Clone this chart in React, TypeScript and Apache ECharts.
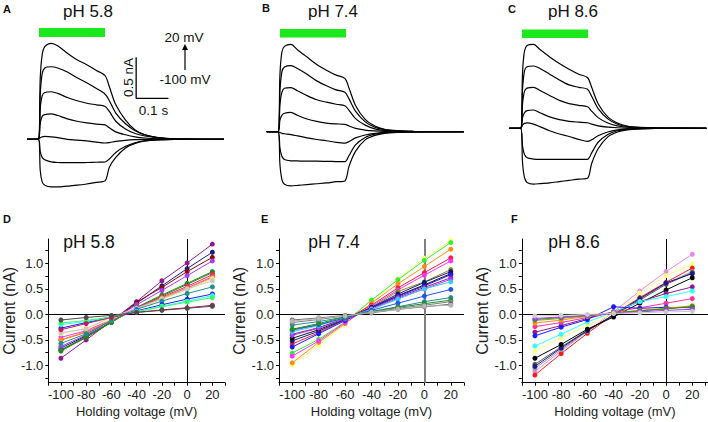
import React, { useEffect, useRef } from "react";
import * as echarts from "echarts";

const FONT = "'Liberation Sans', Arial, Helvetica, sans-serif";

// ---------- Top row: current traces (time in s, current in nA) ----------
const traceTimes = [-0.035, 0, 0.006, 0.012, 0.02, 0.04, 0.06, 0.09, 0.12, 0.15, 0.18, 0.207, 0.22, 0.24, 0.27, 0.3, 0.33, 0.37, 0.42, 0.575];

const tracesA = [
  [0, 0, 0.75, 1.03, 1.13, 1.17, 1.14, 1.05, 0.97, 0.91, 0.84, 0.775, 0.64, 0.42, 0.235, 0.115, 0.055, 0.02, 0.007, 0],
  [0, 0, 0.55, 0.8, 0.87, 0.885, 0.87, 0.82, 0.75, 0.69, 0.62, 0.55, 0.47, 0.32, 0.19, 0.105, 0.055, 0.022, 0.006, 0],
  [0, 0, 0.38, 0.53, 0.57, 0.58, 0.56, 0.51, 0.47, 0.44, 0.42, 0.4, 0.34, 0.22, 0.125, 0.07, 0.04, 0.017, 0.005, 0],
  [0, 0, 0.2, 0.28, 0.3, 0.31, 0.29, 0.25, 0.22, 0.2, 0.185, 0.175, 0.14, 0.09, 0.055, 0.03, 0.016, 0.007, 0.002, 0],
  [0, 0, 0.02, 0.03, 0.035, 0.03, 0.02, 0, -0.01, -0.02, -0.035, -0.045, -0.04, -0.025, -0.012, -0.005, -0.002, 0, 0, 0],
  [0, 0, -0.15, -0.22, -0.25, -0.275, -0.283, -0.285, -0.285, -0.283, -0.28, -0.277, -0.24, -0.16, -0.085, -0.042, -0.02, -0.008, -0.002, 0],
  [0, 0, -0.38, -0.52, -0.56, -0.58, -0.58, -0.57, -0.56, -0.545, -0.525, -0.505, -0.34, -0.22, -0.105, -0.05, -0.02, -0.008, -0.002, 0],
];

const tracesB = [
  [0, 0, 0.7, 0.97, 1.04, 1.065, 1.0, 0.91, 0.82, 0.75, 0.69, 0.65, 0.53, 0.32, 0.15, 0.07, 0.03, 0.012, 0.004, 0],
  [0, 0, 0.5, 0.73, 0.79, 0.805, 0.77, 0.7, 0.62, 0.56, 0.51, 0.48, 0.4, 0.25, 0.12, 0.055, 0.025, 0.01, 0.003, 0],
  [0, 0, 0.33, 0.48, 0.53, 0.537, 0.5, 0.44, 0.39, 0.36, 0.335, 0.317, 0.26, 0.16, 0.08, 0.035, 0.015, 0.006, 0.002, 0],
  [0, 0, 0.14, 0.2, 0.225, 0.235, 0.2, 0.155, 0.125, 0.105, 0.095, 0.09, 0.07, 0.04, 0.02, 0.01, 0.004, 0.002, 0, 0],
  [0, 0, -0.01, -0.02, -0.025, -0.035, -0.05, -0.075, -0.095, -0.11, -0.13, -0.14, -0.12, -0.075, -0.04, -0.02, -0.008, -0.003, -0.001, 0],
  [0, 0, -0.2, -0.3, -0.34, -0.355, -0.357, -0.36, -0.36, -0.362, -0.364, -0.366, -0.29, -0.16, -0.07, -0.03, -0.012, -0.005, -0.001, 0],
  [0, 0, -0.4, -0.58, -0.64, -0.66, -0.655, -0.645, -0.635, -0.625, -0.61, -0.6, -0.42, -0.24, -0.1, -0.045, -0.02, -0.008, -0.002, 0],
];

const tracesC = [
  [0, 0, 0.68, 0.94, 1.01, 1.024, 0.96, 0.87, 0.79, 0.72, 0.66, 0.62, 0.5, 0.3, 0.14, 0.065, 0.028, 0.011, 0.004, 0],
  [0, 0, 0.48, 0.7, 0.75, 0.76, 0.73, 0.66, 0.59, 0.53, 0.5, 0.476, 0.39, 0.24, 0.115, 0.05, 0.022, 0.009, 0.003, 0],
  [0, 0, 0.3, 0.45, 0.49, 0.5, 0.46, 0.4, 0.34, 0.3, 0.28, 0.263, 0.21, 0.13, 0.065, 0.03, 0.013, 0.005, 0.001, 0],
  [0, 0, 0.13, 0.19, 0.215, 0.223, 0.19, 0.14, 0.105, 0.085, 0.075, 0.068, 0.05, 0.03, 0.015, 0.007, 0.003, 0.001, 0, 0],
  [0, 0, 0.04, 0.06, 0.065, 0.05, 0.02, -0.03, -0.07, -0.1, -0.135, -0.16, -0.14, -0.09, -0.045, -0.02, -0.008, -0.003, -0.001, 0],
  [0, 0, -0.22, -0.32, -0.36, -0.375, -0.378, -0.378, -0.378, -0.378, -0.378, -0.378, -0.3, -0.17, -0.075, -0.03, -0.012, -0.005, -0.001, 0],
  [0, 0, -0.42, -0.6, -0.66, -0.68, -0.675, -0.665, -0.65, -0.635, -0.62, -0.61, -0.43, -0.25, -0.105, -0.045, -0.02, -0.008, -0.002, 0],
];

// scale bar (panel A): 0.5 nA / 0.1 s
const scaleBarT = 0.303;
const scaleBarI = 0.5;
const scaleBarDI = 0.5;
const scaleBarDT = 0.1;

// ---------- Bottom row: I-V curves ----------
const voltages = [-100, -80, -60, -40, -20, 0, 20];
const xTickValues = [-110, -100, -90, -80, -70, -60, -50, -40, -30, -20, -10, 0, 10, 20, 30];
const xLabelValues = [-100, -80, -60, -40, -20, 0, 20];
const yTickValues = [-1.25, -1, -0.75, -0.5, -0.25, 0, 0.25, 0.5, 0.75, 1, 1.25];
const yLabelValues = [-1, -0.5, 0, 0.5, 1];

const ivValuesD = [
  [-0.86, -0.5, -0.13, 0.25, 0.66, 1.01, 1.38],
  [-0.66, -0.42, -0.15, 0.22, 0.56, 0.9, 1.22],
  [-0.7, -0.45, -0.15, 0.24, 0.53, 0.84, 1.12],
  [-0.63, -0.4, -0.12, 0.19, 0.47, 0.76, 1.05],
  [-0.72, -0.45, -0.16, 0.14, 0.38, 0.61, 0.84],
  [-0.7, -0.43, -0.15, 0.13, 0.36, 0.59, 0.82],
  [-0.5, -0.35, -0.12, 0.12, 0.34, 0.55, 0.78],
  [-0.45, -0.32, -0.1, 0.13, 0.32, 0.52, 0.74],
  [-0.5, -0.34, -0.12, 0.11, 0.32, 0.51, 0.72],
  [-0.38, -0.27, -0.1, 0.1, 0.3, 0.49, 0.7],
  [-0.36, -0.28, -0.05, 0.12, 0.3, 0.5, 0.66],
  [-0.57, -0.38, -0.12, 0.1, 0.26, 0.41, 0.54],
  [-0.27, -0.16, -0.05, 0.07, 0.19, 0.3, 0.4],
  [-0.2, -0.14, -0.05, 0.06, 0.16, 0.26, 0.37],
  [-0.17, -0.12, -0.05, 0.05, 0.15, 0.24, 0.33],
  [-0.3, -0.18, -0.06, 0.04, 0.09, 0.13, 0.18],
  [-0.11, -0.06, -0.02, 0.04, 0.08, 0.12, 0.16],
];
const ivColorsD = ["#8e1b8e", "#1b1b8e", "#8b0a0a", "#a93bf2", "#1f8f1f", "#2e7d32", "#ff2a2a", "#ff33ff", "#ff9020", "#f2f26a", "#c8c8c8", "#1f9090", "#1f1fff", "#33ffff", "#33ff66", "#c2185b", "#4d4d4d"];

const ivValuesE = [
  [-0.99, -0.6, -0.2, 0.23, 0.7, 1.1, 1.45],
  [-0.76, -0.49, -0.15, 0.28, 0.68, 1.06, 1.41],
  [-0.95, -0.55, -0.18, 0.22, 0.6, 0.94, 1.28],
  [-0.58, -0.36, -0.1, 0.18, 0.52, 0.82, 1.11],
  [-0.82, -0.52, -0.16, 0.16, 0.48, 0.77, 1.05],
  [-0.31, -0.21, -0.08, 0.14, 0.45, 0.64, 0.88],
  [-0.52, -0.33, -0.1, 0.14, 0.4, 0.63, 0.84],
  [-0.47, -0.3, -0.09, 0.13, 0.37, 0.58, 0.8],
  [-0.64, -0.38, -0.12, 0.13, 0.36, 0.56, 0.78],
  [-0.39, -0.26, -0.08, 0.12, 0.34, 0.53, 0.72],
  [-0.41, -0.27, -0.09, 0.1, 0.32, 0.5, 0.69],
  [-0.34, -0.22, -0.07, 0.1, 0.3, 0.5, 0.64],
  [-0.3, -0.2, -0.07, 0.08, 0.22, 0.36, 0.49],
  [-0.21, -0.14, -0.05, 0.06, 0.15, 0.25, 0.33],
  [-0.29, -0.18, -0.05, 0.05, 0.14, 0.21, 0.28],
  [-0.16, -0.1, -0.03, 0.04, 0.12, 0.18, 0.25],
  [-0.11, -0.07, -0.02, 0.03, 0.1, 0.15, 0.2],
  [-0.13, -0.08, -0.03, 0.04, 0.1, 0.16, 0.18],
];
const ivColorsE = ["#ffff70", "#33ee33", "#ff8c1a", "#ff1a3a", "#ff33ff", "#8b8b1a", "#1a1a8b", "#111111", "#1a1aff", "#8e1b8e", "#a93bf2", "#33ccff", "#2255ee", "#1f9090", "#1f8f1f", "#808080", "#666666", "#b5b5b5"];

const ivValuesF = [
  [-1.12, -0.72, -0.33, 0.05, 0.46, 0.84, 1.18],
  [-0.72, -0.46, -0.22, 0.02, 0.42, 0.76, 0.99],
  [-1.19, -0.77, -0.37, 0.0, 0.33, 0.63, 0.91],
  [-1.06, -0.69, -0.33, 0.0, 0.3, 0.61, 0.84],
  [-0.98, -0.64, -0.31, -0.02, 0.28, 0.59, 0.82],
  [-1.02, -0.66, -0.32, -0.01, 0.31, 0.62, 0.8],
  [-0.86, -0.59, -0.29, -0.05, 0.22, 0.48, 0.72],
  [-0.35, -0.22, -0.08, 0.05, 0.25, 0.41, 0.54],
  [-0.62, -0.39, -0.15, 0.05, 0.25, 0.35, 0.46],
  [-0.24, -0.16, -0.06, 0.05, 0.13, 0.22, 0.31],
  [-0.42, -0.25, -0.1, 0.15, 0.12, 0.14, 0.13],
  [-0.17, -0.11, -0.04, 0.03, 0.08, 0.12, 0.17],
  [-0.12, -0.08, -0.03, 0.03, 0.07, 0.11, 0.16],
  [-0.1, -0.06, -0.02, 0.03, 0.07, 0.11, 0.15],
  [-0.08, -0.05, -0.02, 0.02, 0.05, 0.08, 0.1],
  [-0.03, -0.02, 0.0, 0.02, 0.03, 0.05, 0.06],
];
const ivColorsF = ["#e58ae5", "#ffff80", "#ff1a1a", "#999999", "#555555", "#1a1a8b", "#000000", "#8e1b8e", "#33ffff", "#ff3399", "#1a1aff", "#ff9020", "#a0a020", "#1f8f1f", "#a93bf2", "#cccccc"];

const panelTitles = ["pH 5.8", "pH 7.4", "pH 8.6"];
const panelLetters = ["A", "B", "C", "D", "E", "F"];

export default function App() {
  const ref = useRef<HTMLDivElement>(null);
  useEffect(() => {
    if (!ref.current) return;
    const chart = echarts.init(ref.current, undefined, { renderer: "svg" });

    const topGrids = [
      { left: 27, top: 36.8, width: 197, height: 164 },
      { left: 266.7, top: 29.2, width: 197, height: 164 },
      { left: 509.3, top: 25.8, width: 197, height: 164 },
    ];
    const botGrids = [
      { left: 41, top: 239, width: 184, height: 143.7 },
      { left: 279, top: 239, width: 185, height: 143.7 },
      { left: 521.8, top: 239, width: 187, height: 143.7 },
    ];
    const grids = [...topGrids, ...botGrids];

    const xAxes: any[] = [];
    const yAxes: any[] = [];
    for (let i = 0; i < 3; i++) {
      xAxes.push({ gridIndex: i, type: "value", min: -0.035, max: 0.575, show: false });
      yAxes.push({ gridIndex: i, type: "value", min: -0.75, max: 1.25, show: false });
    }
    const axisLine = { show: true, onZero: false, lineStyle: { color: "#000", width: 1 } };
    const labelStyle = { fontSize: 13, color: "#222", fontFamily: FONT };
    for (let i = 0; i < 3; i++) {
      xAxes.push({
        gridIndex: 3 + i,
        type: "value",
        min: -110,
        max: i === 2 ? 32 : 30,
        axisLine,
        axisTick: { show: true, customValues: xTickValues, length: 3, lineStyle: { color: "#000" } },
        axisLabel: { ...labelStyle, customValues: xLabelValues, margin: 5 },
        splitLine: { show: false },
        name: "Holding voltage (mV)",
        nameLocation: "middle",
        nameGap: 22,
        nameTextStyle: { fontSize: 13, color: "#222", fontFamily: FONT },
      });
      yAxes.push({
        gridIndex: 3 + i,
        type: "value",
        min: -1.34,
        max: 1.48,
        axisLine,
        axisTick: { show: true, customValues: yTickValues, length: 3, lineStyle: { color: "#000" } },
        axisLabel: { ...labelStyle, customValues: yLabelValues, margin: 5, formatter: (v: number) => v.toFixed(1) },
        splitLine: { show: false },
        name: "Current (nA)",
        nameLocation: "middle",
        nameGap: 26,
        nameRotate: 90,
        nameTextStyle: { fontSize: 16, color: "#222", fontFamily: FONT },
      });
    }

    const series: any[] = [];
    [tracesA, tracesB, tracesC].forEach((traces, p) => {
      traces.forEach((tr) => {
        series.push({
          type: "line",
          xAxisIndex: p,
          yAxisIndex: p,
          data: traceTimes.map((t, k) => [t, tr[k]]),
          showSymbol: false,
          smooth: 0.3,
          lineStyle: { color: "#000", width: 1.2 },
          silent: true,
        });
      });
    });
    // scale bar
    series.push({
      type: "line",
      xAxisIndex: 0,
      yAxisIndex: 0,
      data: [
        [scaleBarT, scaleBarI + scaleBarDI],
        [scaleBarT, scaleBarI],
        [scaleBarT + scaleBarDT, scaleBarI],
      ],
      showSymbol: false,
      lineStyle: { color: "#000", width: 1.3 },
      silent: true,
    });

    const ivSets = [
      { vals: ivValuesD, cols: ivColorsD, vColor: "#000", vWidth: 1 },
      { vals: ivValuesE, cols: ivColorsE, vColor: "#808080", vWidth: 2 },
      { vals: ivValuesF, cols: ivColorsF, vColor: "#000", vWidth: 1 },
    ];
    ivSets.forEach((set, p) => {
      const ax = 3 + p;
      set.vals.forEach((vals, k) => {
        const s: any = {
          type: "line",
          xAxisIndex: ax,
          yAxisIndex: ax,
          data: voltages.map((v, j) => [v, vals[j]]),
          symbol: "circle",
          symbolSize: 5,
          showSymbol: true,
          itemStyle: { color: set.cols[k] },
          lineStyle: { color: set.cols[k], width: 1 },
          silent: true,
          z: 3,
        };
        if (k === 0) {
          s.markLine = {
            silent: true,
            symbol: ["none", "none"],
            label: { show: false },
            z: 1,
            data: [
              { yAxis: 0, lineStyle: { color: "#000", width: 1, type: "solid" } },
              { xAxis: 0, lineStyle: { color: set.vColor, width: set.vWidth, type: "solid" } },
            ],
          };
        }
        series.push(s);
      });
    });

    const txt = (text: string, x: number, y: number, size: number, opt: any = {}) => ({
      type: "text",
      x,
      y,
      rotation: opt.rot || 0,
      silent: true,
      style: {
        text,
        fontSize: size,
        fontFamily: FONT,
        fontWeight: opt.bold ? "bold" : "normal",
        fill: opt.fill || "#111",
        textAlign: opt.align || "center",
        textVerticalAlign: "middle",
        align: opt.align || "center",
        verticalAlign: "middle",
      },
    });

    const graphic: any[] = [
      // panel letters
      txt(panelLetters[0], 3, 8.5, 11, { bold: true, align: "left" }),
      txt(panelLetters[1], 262, 8, 11, { bold: true, align: "left" }),
      txt(panelLetters[2], 508, 8.5, 11, { bold: true, align: "left" }),
      txt(panelLetters[3], 3, 219, 11, { bold: true, align: "left" }),
      txt(panelLetters[4], 261, 219, 11, { bold: true, align: "left" }),
      txt(panelLetters[5], 511, 219, 11, { bold: true, align: "left" }),
      // top titles
      txt(panelTitles[0], 88, 11, 17),
      txt(panelTitles[1], 333, 11, 17),
      txt(panelTitles[2], 573, 11, 17),
      // bottom titles
      txt(panelTitles[0], 89, 242, 17.5),
      txt(panelTitles[1], 334, 242, 17.5),
      txt(panelTitles[2], 574, 242, 17.5),
      // green stimulus bars
      { type: "rect", shape: { x: 39, y: 28, width: 66, height: 9 }, style: { fill: "#1de81d" }, silent: true },
      { type: "rect", shape: { x: 280, y: 29, width: 66, height: 8.5 }, style: { fill: "#1de81d" }, silent: true },
      { type: "rect", shape: { x: 522, y: 29.5, width: 66, height: 8.5 }, style: { fill: "#1de81d" }, silent: true },
      // scale bar labels
      txt("0.5 nA", 128, 77.5, 13.5, { rot: Math.PI / 2 }),
      txt("0.1 s", 153.5, 110, 13.5),
      // voltage protocol annotation
      txt("20 mV", 184, 37.5, 13.5),
      txt("-100 mV", 185, 79, 13.5),
      { type: "line", shape: { x1: 185, y1: 70, x2: 185, y2: 49 }, style: { stroke: "#000", lineWidth: 1.2 }, silent: true },
      { type: "polygon", shape: { points: [[182, 50], [188, 50], [185, 44]] }, style: { fill: "#000" }, silent: true },
    ];

    chart.setOption({
      animation: false,
      backgroundColor: "#fff",
      grid: grids,
      xAxis: xAxes,
      yAxis: yAxes,
      series,
      graphic,
    });
    return () => chart.dispose();
  }, []);

  return (
    <div
      ref={ref}
      style={{ position: "fixed", left: 0, top: 0, width: 708, height: 422, background: "#fff" }}
    />
  );
}
